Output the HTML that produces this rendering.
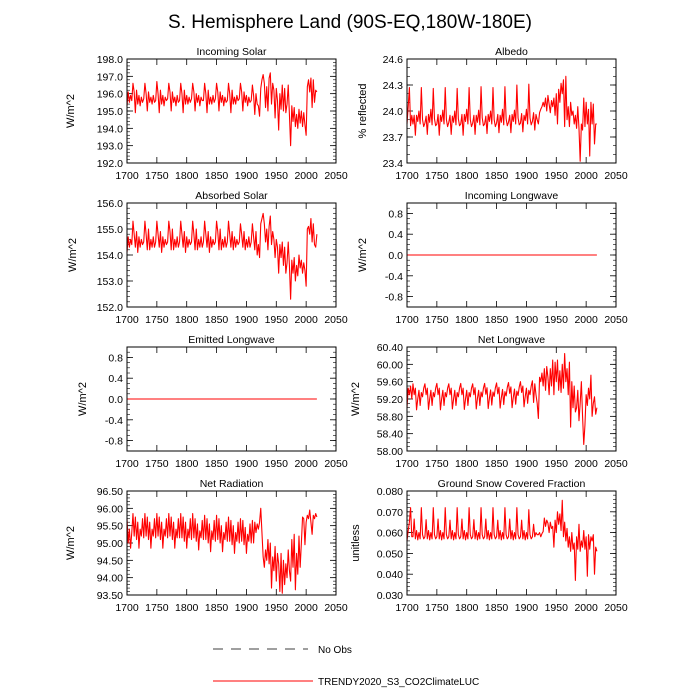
<!DOCTYPE html>
<html><head><meta charset="utf-8"><style>
html,body{margin:0;padding:0;background:#fff;}
svg{display:block;font-family:"Liberation Sans",sans-serif;}
</style></head><body>
<svg id="chart" width="700" height="700" viewBox="0 0 700 700">
<text x="350" y="28" text-anchor="middle" font-size="19">S. Hemisphere Land (90S-EQ,180W-180E)</text>
<g>
<line x1="213" y1="649" x2="308" y2="649" stroke="#000" stroke-width="0.8" stroke-dasharray="10,8"/>
<text x="318" y="653" font-size="10">No Obs</text>
<line x1="213" y1="681" x2="313" y2="681" stroke="#f00" stroke-width="1"/>
<text x="318" y="685" font-size="10">TRENDY2020_S3_CO2ClimateLUC</text>
</g>
</svg>
<script>
const startYear = 1700;
const stepYears = 2;
const xTicks = [1700,1750,1800,1850,1900,1950,2000,2050];

const incomingSolar = [195.3,196.1,195.5,195.9,195.6,
196.6,196.1,194.9,196.2,195.4,195.9,195.3,195.8,195.5,195.7,
196.6,196.0,195.0,196.1,195.5,195.8,195.4,195.9,195.5,195.6,
196.7,196.0,194.9,196.2,195.4,195.9,195.3,195.8,195.6,195.7,
196.6,196.1,195.0,196.1,195.5,195.8,195.3,195.9,195.5,195.6,
196.6,196.0,194.9,196.2,195.4,195.9,195.4,195.8,195.5,195.7,
196.6,196.1,195.0,196.0,195.5,195.9,195.3,195.8,195.6,195.6,
196.6,196.0,194.9,196.2,195.4,195.8,195.4,195.9,195.5,195.7,
196.6,196.1,195.0,196.1,195.5,195.9,195.3,195.8,195.5,195.6,
196.6,196.0,194.9,196.2,195.4,195.8,195.4,195.9,195.6,195.7,
196.6,196.1,195.0,196.1,195.5,195.9,195.3,195.8,195.5,195.6,
196.5,195.9,194.8,196.0,195.4,
195.3,194.7,196.3,196.8,197.1,196.6,195.2,196.4,195.0,196.9,
197.2,195.4,196.6,196.2,194.6,196.3,195.6,193.9,196.0,195.1,
196.5,195.0,196.3,194.9,195.4,196.5,194.8,193.0,195.3,194.4,
195.2,194.1,194.8,194.0,195.1,194.3,195.0,194.1,194.9,194.2,
193.6,196.4,196.8,196.1,196.9,195.2,196.8,195.5,196.2,196.1];

const albedo = [23.85,24.05,24.27,23.83,23.95,
23.85,23.95,23.72,23.95,23.88,24.00,23.85,24.27,23.90,23.82,
23.86,23.94,23.73,23.96,23.87,24.02,23.84,24.26,23.91,23.83,
23.85,23.96,23.72,23.95,23.88,24.01,23.85,24.27,23.90,23.82,
23.87,23.95,23.73,23.94,23.87,24.00,23.84,24.26,23.91,23.83,
23.85,23.96,23.72,23.96,23.88,24.02,23.85,24.27,23.90,23.82,
23.86,23.95,23.73,23.95,23.87,24.01,23.84,24.28,23.92,23.83,
23.85,23.94,23.74,23.96,23.88,24.00,23.85,24.27,23.90,23.82,
23.86,23.96,23.75,23.95,23.87,24.02,23.84,24.28,23.91,23.83,
23.87,23.95,23.75,23.96,23.88,24.01,23.85,24.30,23.92,23.84,
23.86,23.97,23.76,23.95,23.89,24.02,23.85,24.31,23.92,23.84,
23.88,23.98,23.78,23.96,23.90,
23.85,23.98,24.02,24.05,24.10,24.05,24.15,24.00,24.18,24.08,
23.98,24.12,24.05,24.15,23.95,24.20,23.85,24.25,24.10,24.32,
24.20,24.36,23.82,24.40,23.90,24.05,23.82,24.10,23.95,24.00,
23.85,23.95,23.80,24.05,23.80,23.42,23.85,23.78,24.15,23.82,
24.10,23.85,24.02,23.48,24.10,23.85,24.08,23.62,23.85,23.85];

const absorbedSolar = [154.1,154.7,154.3,154.6,154.4,
155.3,154.8,154.3,154.9,154.1,154.7,154.3,154.6,154.4,154.5,
155.3,154.8,154.2,155.0,154.2,154.6,154.3,154.7,154.3,154.5,
155.3,154.8,154.3,154.9,154.1,154.7,154.3,154.6,154.4,154.5,
155.3,154.9,154.2,155.0,154.2,154.6,154.3,154.7,154.3,154.5,
155.3,154.8,154.3,154.9,154.1,154.7,154.3,154.6,154.4,154.5,
155.3,154.8,154.2,155.0,154.2,154.6,154.3,154.7,154.3,154.5,
155.3,154.8,154.3,154.9,154.1,154.7,154.3,154.6,154.4,154.5,
155.3,154.9,154.2,155.0,154.2,154.6,154.3,154.7,154.3,154.5,
155.3,154.8,154.3,154.9,154.2,154.7,154.3,154.6,154.4,154.5,
155.2,154.8,154.3,154.9,154.2,154.6,154.3,154.7,154.3,154.5,
155.2,154.7,154.2,154.9,154.0,
154.4,153.9,155.2,155.4,155.6,155.2,154.5,155.0,154.2,155.1,
155.5,154.4,154.9,154.6,153.9,154.6,154.3,153.3,154.4,153.9,
154.5,153.6,154.3,153.3,153.7,154.5,153.6,152.3,153.8,153.3,
153.9,153.0,153.6,153.2,154.0,153.5,153.8,153.3,153.7,153.4,
152.8,155.0,155.1,154.8,155.4,154.5,155.2,154.4,154.3,154.8];

const zeroYears = [1700,2018];
const incomingLongwave = [0,0];
const emittedLongwave = [0,0];

const netLongwave = [59.00,59.45,59.30,59.50,59.20,
59.55,59.30,59.45,58.95,59.20,59.40,59.05,59.35,59.25,59.45,
59.55,59.30,59.45,58.96,59.20,59.40,59.05,59.35,59.25,59.45,
59.56,59.30,59.45,58.95,59.20,59.40,59.05,59.35,59.25,59.45,
59.55,59.30,59.45,58.97,59.20,59.40,59.05,59.35,59.25,59.45,
59.56,59.30,59.45,58.96,59.20,59.40,59.05,59.35,59.25,59.45,
59.55,59.30,59.46,58.97,59.22,59.40,59.05,59.36,59.25,59.45,
59.56,59.31,59.46,58.98,59.22,59.41,59.06,59.36,59.26,59.46,
59.57,59.32,59.47,58.99,59.23,59.42,59.07,59.37,59.27,59.47,
59.58,59.33,59.48,59.00,59.24,59.43,59.08,59.38,59.28,59.48,
59.60,59.35,59.50,59.02,59.26,59.45,59.10,59.40,59.30,59.50,
59.62,59.12,59.55,59.30,59.10,
58.75,59.70,59.60,59.80,59.50,59.90,59.40,59.95,59.70,59.30,
59.90,59.50,60.10,59.30,60.05,59.60,60.10,59.40,59.85,59.35,
60.00,59.45,60.25,59.60,59.90,59.30,60.05,58.55,59.60,59.00,
59.50,58.90,59.00,59.40,58.70,59.10,59.60,58.80,58.15,58.60,
59.30,59.05,59.45,59.20,59.75,58.80,59.10,59.25,58.85,59.00];

const netRadiation = [95.70,95.00,95.40,94.85,95.30,
95.85,95.20,95.75,95.10,95.60,94.85,95.40,95.20,95.70,95.15,
95.85,95.20,95.75,95.10,95.60,94.85,95.40,95.20,95.70,95.15,
95.85,95.20,95.75,95.10,95.60,94.85,95.40,95.20,95.70,95.15,
95.85,95.20,95.75,95.10,95.60,94.85,95.40,95.15,95.70,95.15,
95.85,95.15,95.75,95.05,95.60,94.85,95.40,95.15,95.70,95.10,
95.85,95.15,95.70,95.05,95.55,94.80,95.35,95.15,95.65,95.10,
95.80,95.10,95.70,95.00,95.55,94.75,95.35,95.10,95.65,95.05,
95.80,95.10,95.70,95.00,95.50,94.75,95.30,95.10,95.60,95.05,
95.75,95.05,95.65,94.95,95.50,94.70,95.30,95.05,95.60,95.00,
95.70,95.05,95.65,94.95,95.45,94.70,95.25,95.05,95.55,95.00,
95.65,95.00,95.60,95.30,95.55,
95.40,95.60,96.00,95.30,94.60,94.30,94.80,94.50,95.10,94.40,
95.00,93.70,94.60,94.20,94.90,93.90,94.70,94.40,93.60,94.70,
93.55,94.50,93.80,94.40,94.00,94.80,94.20,93.90,95.10,94.30,
95.25,93.65,94.70,94.10,95.20,94.30,95.00,95.75,95.70,94.95,
95.60,95.80,95.70,95.95,95.60,95.25,95.80,95.70,95.85,95.75];

const snowFraction = [0.056,0.061,0.065,0.072,0.058,
0.058,0.0665,0.057,0.061,0.0565,0.060,0.057,0.072,0.059,0.057,
0.058,0.0662,0.057,0.061,0.0565,0.060,0.057,0.072,0.059,0.057,
0.058,0.0665,0.057,0.061,0.0565,0.060,0.057,0.072,0.059,0.057,
0.058,0.0660,0.057,0.061,0.0565,0.060,0.057,0.072,0.059,0.057,
0.058,0.0665,0.057,0.061,0.0565,0.060,0.057,0.072,0.059,0.057,
0.058,0.0662,0.057,0.061,0.0565,0.060,0.057,0.072,0.059,0.057,
0.058,0.0665,0.057,0.061,0.0565,0.060,0.057,0.072,0.059,0.057,
0.058,0.0660,0.057,0.061,0.0565,0.060,0.057,0.072,0.059,0.057,
0.058,0.0665,0.057,0.061,0.0565,0.060,0.057,0.072,0.059,0.057,
0.058,0.0660,0.057,0.061,0.0565,0.060,0.057,0.071,0.059,0.057,
0.058,0.064,0.058,0.060,0.059,
0.059,0.060,0.058,0.0595,0.0605,0.067,0.063,0.066,0.0645,0.060,
0.065,0.062,0.063,0.053,0.066,0.060,0.070,0.064,0.069,0.061,
0.0755,0.058,0.065,0.056,0.062,0.053,0.058,0.051,0.060,0.052,
0.055,0.037,0.058,0.052,0.064,0.051,0.056,0.053,0.061,0.052,
0.058,0.039,0.059,0.052,0.058,0.056,0.059,0.040,0.053,0.051];

const panels = [
 {name:'incoming-solar', title:'Incoming Solar', ylab:'W/m^2', min:192, max:198, major:1, minor:0.2, dec:1, data:incomingSolar, left:127, top:59, labOff:53},
 {name:'albedo', title:'Albedo', ylab:'% reflected', min:23.4, max:24.6, major:0.3, minor:0.1, dec:1, data:albedo, left:407, top:59, labOff:41},
 {name:'absorbed-solar', title:'Absorbed Solar', ylab:'W/m^2', min:152, max:156, major:1, minor:0.2, dec:1, data:absorbedSolar, left:127, top:203, labOff:51},
 {name:'incoming-longwave', title:'Incoming Longwave', ylab:'W/m^2', min:-1, max:1, major:0.4, minor:0.1, dec:1, data:incomingLongwave, years:zeroYears, left:407, top:203, labOff:41, tickStart:-0.8},
 {name:'emitted-longwave', title:'Emitted Longwave', ylab:'W/m^2', min:-1, max:1, major:0.4, minor:0.1, dec:1, data:emittedLongwave, years:zeroYears, left:127, top:347, labOff:41, tickStart:-0.8},
 {name:'net-longwave', title:'Net Longwave', ylab:'W/m^2', min:58, max:60.4, major:0.4, minor:0.1, dec:2, data:netLongwave, left:407, top:347, labOff:48},
 {name:'net-radiation', title:'Net Radiation', ylab:'W/m^2', min:93.5, max:96.5, major:0.5, minor:0.1, dec:2, data:netRadiation, left:127, top:491, labOff:53},
 {name:'snow-fraction', title:'Ground Snow Covered Fraction', ylab:'unitless', min:0.03, max:0.08, major:0.01, minor:0.002, dec:3, data:snowFraction, left:407, top:491, labOff:48}
];

const NS = 'http://www.w3.org/2000/svg';
const svg = document.getElementById('chart');
const W = 209, H = 104;
function mk(tag, attrs, parent){
  const e = document.createElementNS(NS, tag);
  for (const k in attrs) e.setAttribute(k, attrs[k]);
  parent.appendChild(e);
  return e;
}
panels.forEach(p => {
  const g = mk('g', {}, svg);
  
  
  const xs = yr => p.left + (yr - 1700) / 350 * W;
  const ys = v => p.top + H - (v - p.min) / (p.max - p.min) * H;
  const t = mk('text', {x: p.left + W/2, y: p.top - 4, 'text-anchor':'middle', 'font-size':'10.5'}, g);
  t.textContent = p.title;
  
  
  const yl = mk('text', {x:0, y:0, 'text-anchor':'middle', 'font-size':'11', transform:'translate(' + (p.left - p.labOff) + ',' + (p.top + H/2) + ') rotate(-90)'}, g);
  yl.textContent = p.ylab;
  
  
  const nMin = Math.round((p.max - p.min) / p.minor);
  for (let i = 0; i <= nMin; i++) {
    const y = ys(p.min + i * p.minor);
    mk('line', {x1:p.left, x2:p.left+3, y1:y, y2:y, stroke:'#000', 'stroke-width':'0.6'}, g);
    mk('line', {x1:p.left+W-3, x2:p.left+W, y1:y, y2:y, stroke:'#000', 'stroke-width':'0.6'}, g);
  }
  const ts = p.tickStart !== undefined ? p.tickStart : p.min;
  for (let v = ts; v <= p.max + 1e-9; v += p.major) {
    const y = ys(v);
    mk('line', {x1:p.left, x2:p.left+6, y1:y, y2:y, stroke:'#000', 'stroke-width':'0.8'}, g);
    mk('line', {x1:p.left+W-6, x2:p.left+W, y1:y, y2:y, stroke:'#000', 'stroke-width':'0.8'}, g);
    const lab = mk('text', {x:p.left - 4, y:y + 4, 'text-anchor':'end', 'font-size':'10.5'}, g);
    const vv = Math.abs(v) < 1e-9 ? 0 : v;
    lab.textContent = vv.toFixed(p.dec);
    
    
  }
  xTicks.forEach(yr => {
    const x = xs(yr);
    mk('line', {x1:x, x2:x, y1:p.top+H-6, y2:p.top+H, stroke:'#000', 'stroke-width':'0.8'}, g);
    mk('line', {x1:x, x2:x, y1:p.top, y2:p.top+6, stroke:'#000', 'stroke-width':'0.8'}, g);
    const lab = mk('text', {x:x, y:p.top + H + 16, 'text-anchor':'middle', 'font-size':'10.5'}, g);
    lab.textContent = yr;
    
    
  });
  let pts = [];
  if (p.years) {
    pts = p.years.map((yr, i) => xs(yr).toFixed(2) + ',' + ys(p.data[i]).toFixed(2));
  } else {
    pts = p.data.map((v, i) => xs(startYear + i * stepYears).toFixed(2) + ',' + ys(v).toFixed(2));
  }
  const line = mk('polyline', {points: pts.join(' '), fill:'none', stroke:'#f00', 'stroke-width':'1.1', 'stroke-linejoin':'round'}, g);
  
  
  const fr = mk('rect', {x:p.left, y:p.top, width:W, height:H, fill:'none', stroke:'#000', 'stroke-width':'1'}, g);
  
  
});
</script>
</body></html>
